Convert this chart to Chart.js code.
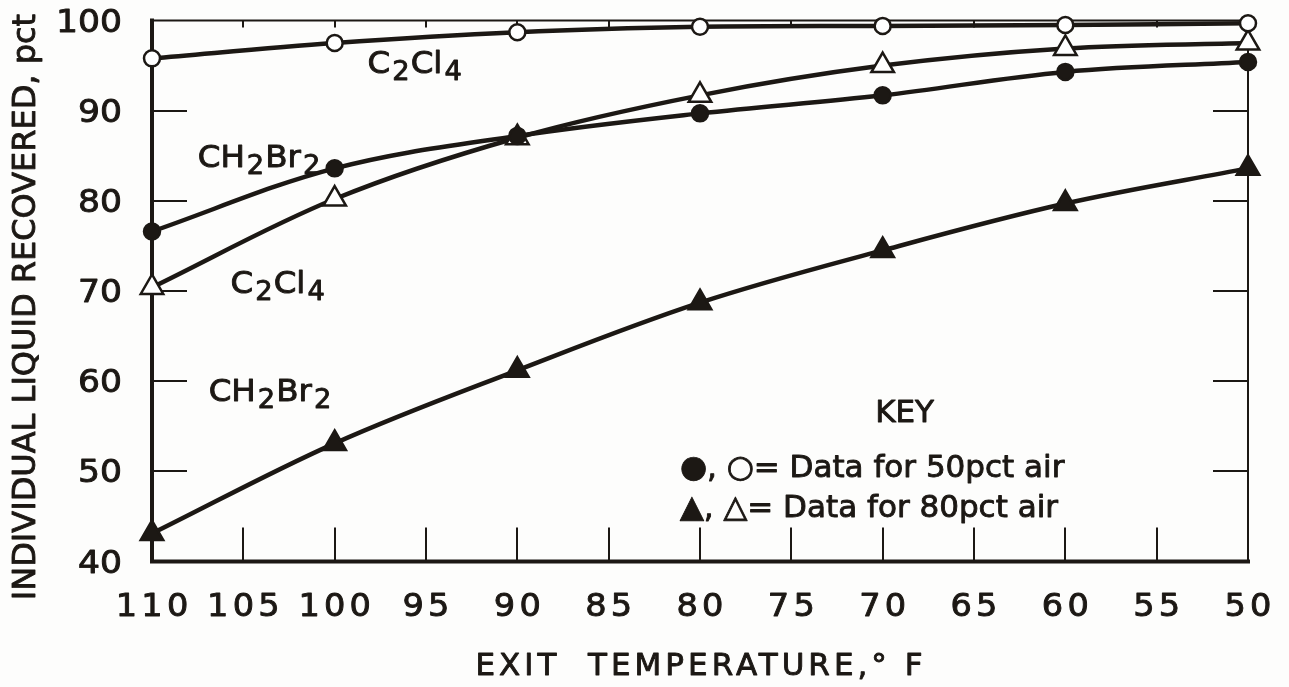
<!DOCTYPE html>
<html>
<head>
<meta charset="utf-8">
<title>Individual liquid recovered vs exit temperature</title>
<script src="https://cdn.jsdelivr.net/npm/chart.js@4/dist/chart.umd.min.js"></script>
<style>
  html, body { margin: 0; padding: 0; background: #fdfdfc; }
  canvas { display: block; }
</style>
</head>
<body>
<canvas id="chart" width="1289" height="687"></canvas>
<script>
// Exit temperature, deg F (axis runs from hot to cold)
const temperatures = [110, 100, 90, 80, 70, 60, 50];

// Individual liquid recovered, pct
const c2cl4Air50  = [95.8, 97.5, 98.7, 99.3, 99.4, 99.5, 99.7];
const ch2br2Air50 = [76.6, 83.6, 87.2, 89.7, 91.7, 94.3, 95.4];
const c2cl4Air80  = [70.4, 80.2, 87.0, 91.7, 95.0, 96.9, 97.5];
const ch2br2Air80 = [43.1, 53.1, 61.2, 68.7, 74.5, 79.7, 83.6];

// Tick labels
const xTickLabels = [110, 105, 100, 95, 90, 85, 80, 75, 70, 65, 60, 55, 50];
const yTickLabels = [40, 50, 60, 70, 80, 90, 100];

const INK = '#1c1814';
const FONT = '"DejaVu Sans"';

const toPoints = values => temperatures.map((t, i) => ({ x: t, y: values[i] }));

// Curve annotations, anchored in data coordinates (left edge, baseline)
const curveLabels = [
  { parts: [['C', 0], ['2', 1], ['Cl', 0], ['4', 1]],        x: 98.2,  y: 94.2 },
  { parts: [['CH', 0], ['2', 1], ['Br', 0], ['2', 1]],       x: 107.5, y: 83.7 },
  { parts: [['C', 0], ['2', 1], ['Cl', 0], ['4', 1]],        x: 105.7, y: 69.8 },
  { parts: [['CH', 0], ['2', 1], ['Br', 0], ['2', 1]],       x: 106.9, y: 57.8 }
];

function drawText(ctx, str, x, y, o) {
  o = o || {};
  const size = o.size || 30;
  const spacing = o.spacing || 0;
  const sx = o.scaleX || 1;
  ctx.save();
  ctx.font = size + 'px ' + FONT;
  ctx.letterSpacing = '0px';
  const base = ctx.measureText(str).width;
  const w = (base + spacing * (str.length - 1)) * sx;
  let left = x;
  if (o.align === 'center') left = x - w / 2;
  else if (o.align === 'right') left = x - w;
  ctx.letterSpacing = spacing + 'px';
  ctx.textAlign = 'left';
  ctx.textBaseline = o.baseline || 'alphabetic';
  ctx.fillStyle = INK;
  ctx.strokeStyle = INK;
  ctx.lineWidth = 0.9;
  ctx.lineJoin = 'round';
  ctx.translate(left, y);
  ctx.scale(sx, 1);
  ctx.fillText(str, 0, 0);
  ctx.strokeText(str, 0, 0);
  ctx.restore();
  return w;
}

function drawFormula(ctx, parts, x, y) {
  let cx = x;
  parts.forEach(([txt, sub]) => {
    const w = drawText(ctx, txt, cx, y + (sub ? 7 : 0), { size: sub ? 26 : 31, scaleX: 1.05 });
    cx += w + (sub ? 1 : 2);
  });
}

// Box frame with inward ticks on all four sides
const framePlugin = {
  id: 'frame',
  beforeDatasetsDraw(chart) {
    const { ctx, chartArea: a, scales } = chart;
    const xs = scales.x, ys = scales.y;
    ctx.save();
    ctx.strokeStyle = INK;
    ctx.lineCap = 'square';
    ctx.lineWidth = 2;
    ctx.beginPath();
    ctx.moveTo(a.left, a.top); ctx.lineTo(a.right, a.top); ctx.lineTo(a.right, a.bottom);
    ctx.stroke();
    ctx.lineWidth = 4;
    ctx.beginPath();
    ctx.moveTo(a.left, a.top); ctx.lineTo(a.left, a.bottom); ctx.lineTo(a.right, a.bottom);
    ctx.stroke();
    ctx.lineCap = 'butt';
    ctx.lineWidth = 2;
    xTickLabels.forEach(v => {
      if (v === xs.min || v === xs.max) return;
      const px = Math.round(xs.getPixelForValue(v));
      ctx.beginPath();
      ctx.moveTo(px, a.bottom); ctx.lineTo(px, a.bottom - 34);
      ctx.moveTo(px, a.top); ctx.lineTo(px, a.top + 7);
      ctx.stroke();
    });
    yTickLabels.forEach(v => {
      if (v === ys.min || v === ys.max) return;
      const py = Math.round(ys.getPixelForValue(v));
      ctx.beginPath();
      ctx.moveTo(a.left, py); ctx.lineTo(a.left + 35, py);
      ctx.moveTo(a.right, py); ctx.lineTo(a.right - 35, py);
      ctx.stroke();
    });
    ctx.restore();
  },
  afterDraw(chart) {
    const { ctx, scales } = chart;
    const xs = scales.x, ys = scales.y;

    // Tick labels
    xTickLabels.forEach(v => {
      drawText(ctx, String(v), xs.getPixelForValue(v), 616, { size: 32, align: 'center', spacing: 4, scaleX: 1.05 });
    });
    yTickLabels.forEach(v => {
      drawText(ctx, String(v), 122, ys.getPixelForValue(v) + 11, { size: 32, align: 'right', scaleX: 1.08 });
    });

    // Axis titles
    drawText(ctx, 'EXIT  TEMPERATURE,° F', 699, 675, { size: 31, align: 'center', spacing: 4 });
    ctx.save();
    ctx.translate(27, 307);
    ctx.rotate(-Math.PI / 2);
    drawText(ctx, 'INDIVIDUAL LIQUID RECOVERED, pct', 0, 0, { size: 32, align: 'center', baseline: 'middle' });
    ctx.restore();

    // Curve annotations
    curveLabels.forEach(l => drawFormula(ctx, l.parts, xs.getPixelForValue(l.x), ys.getPixelForValue(l.y)));

    // Key
    const keyX = xs.getPixelForValue(81.1);
    drawText(ctx, 'KEY', xs.getPixelForValue(68.8), ys.getPixelForValue(55.5), { size: 31, align: 'center' });
    drawText(ctx, '●, ○= Data for 50pct air', keyX, ys.getPixelForValue(49.4), { size: 31 });
    drawText(ctx, '▲, △= Data for 80pct air', keyX, ys.getPixelForValue(44.9), { size: 31 });
  }
};

const lineStyle = { borderColor: INK, borderWidth: 4.5, tension: 0.35, clip: false, fill: false, pointBorderColor: INK, pointBorderWidth: 2.5, pointHoverRadius: 0 };

new Chart(document.getElementById('chart'), {
  type: 'line',
  data: {
    datasets: [
      Object.assign({ label: 'CH2Br2, 50 pct air', data: toPoints(ch2br2Air50), pointStyle: 'circle', pointRadius: 8, pointBackgroundColor: INK }, lineStyle),
      Object.assign({ label: 'C2Cl4, 50 pct air', data: toPoints(c2cl4Air50), pointStyle: 'circle', pointRadius: 8, pointBackgroundColor: '#ffffff' }, lineStyle),
      Object.assign({ label: 'C2Cl4, 80 pct air', data: toPoints(c2cl4Air80), pointStyle: 'triangle', pointRadius: 13, pointBackgroundColor: '#ffffff' }, lineStyle),
      Object.assign({ label: 'CH2Br2, 80 pct air', data: toPoints(ch2br2Air80), pointStyle: 'triangle', pointRadius: 13, pointBackgroundColor: INK }, lineStyle)
    ]
  },
  options: {
    responsive: false,
    animation: false,
    events: [],
    layout: { padding: { left: 152, right: 41, top: 20.5, bottom: 125.5 } },
    plugins: { legend: { display: false }, tooltip: { enabled: false } },
    scales: {
      x: { type: 'linear', reverse: true, min: 50, max: 110, display: false },
      y: { type: 'linear', min: 40, max: 100, display: false }
    }
  },
  plugins: [framePlugin]
});
</script>
</body>
</html>
